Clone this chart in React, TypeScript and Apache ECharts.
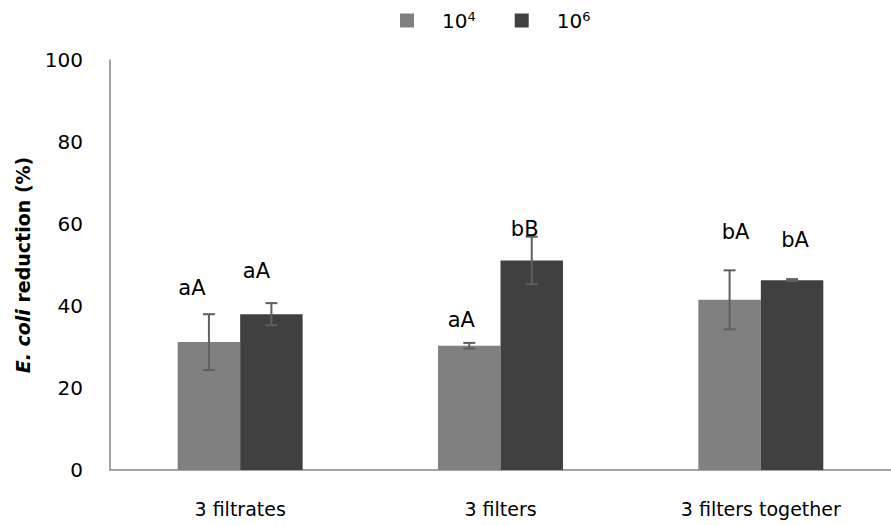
import React, { useEffect, useRef } from "react";
import * as echarts from "echarts";

const categories = ["3 filtrates", "3 filters", "3 filters together"];
const seriesNames = ["10^4", "10^6"];
const values4 = [31.2, 30.3, 41.5];
const errors4 = [6.8, 0.7, 7.2];
const values6 = [38.0, 51.1, 46.3];
const errors6 = [2.7, 5.8, 0.25];
const letters4 = ["aA", "aA", "bA"];
const letters6 = ["aA", "bB", "bA"];
const yTicks = [0, 20, 40, 60, 80, 100];

// label placement tweaks (pixels, relative to top of error bar / bar centre)
const labelDx = [[-17, -8, 6], [-15, -7, 3]];
const labelDy = [[-26, -23, -38], [-32, -8, -39]];

const FONT = "'DejaVu Sans', sans-serif";
const COLORS = ["#808080", "#404040"];

export default function App() {
  const ref = useRef<HTMLDivElement>(null);
  useEffect(() => {
    if (!ref.current) return;
    const chart = echarts.init(ref.current, undefined, { renderer: "svg" });
    const errData: any[] = [];
    [values4, values6].forEach((vals, s) => {
      const errs = s === 0 ? errors4 : errors6;
      const lets = s === 0 ? letters4 : letters6;
      vals.forEach((v, i) => {
        errData.push({ value: [i, v, errs[i], s], letter: lets[i] });
      });
    });
    chart.setOption({
      animation: false,
      color: COLORS,
      legend: {
        data: seriesNames,
        left: 395,
        top: 5,
        itemWidth: 14,
        itemHeight: 14,
        itemGap: 39,
        icon: "rect",
        formatter: (n: string) => {
          const [b, e] = n.split("^");
          return `{base|${b}}{sup|${e}}`;
        },
        textStyle: {
          padding: [0, 0, 0, 23],
          rich: {
            base: { fontFamily: FONT, fontSize: 20, color: "#000" },
            sup: { fontFamily: FONT, fontSize: 13, color: "#000", verticalAlign: "bottom", padding: [0, 0, 8, 0] },
          },
        },
      },
      grid: { left: 110, right: -11, top: 60, bottom: 55, containLabel: false },
      xAxis: {
        type: "category",
        data: categories,
        axisLine: { lineStyle: { color: "#868686", width: 1.5 } },
        axisTick: { show: false },
        axisLabel: { fontFamily: FONT, fontSize: 19, color: "#000", margin: 29 },
      },
      yAxis: {
        type: "value",
        min: yTicks[0],
        max: yTicks[yTicks.length - 1],
        interval: 20,
        name: "{i|E. coli }{b|reduction (%)}",
        nameLocation: "middle",
        nameGap: 78,
        nameRotate: 90,
        nameTextStyle: {
          rich: {
            i: { fontFamily: FONT, fontSize: 19, fontWeight: "bold", fontStyle: "italic", color: "#000" },
            b: { fontFamily: FONT, fontSize: 19, fontWeight: "bold", color: "#000" },
          },
        },
        axisLine: { show: true, lineStyle: { color: "#868686", width: 1.5 } },
        axisTick: { show: false },
        splitLine: { show: false },
        axisLabel: { fontFamily: FONT, fontSize: 20, color: "#000", margin: 27 },
      },
      series: [
        {
          name: seriesNames[0],
          type: "bar",
          data: values4,
          barGap: "0%",
          barCategoryGap: "52%",
          itemStyle: { color: COLORS[0] },
        },
        {
          name: seriesNames[1],
          type: "bar",
          data: values6,
          barGap: "0%",
          barCategoryGap: "52%",
          itemStyle: { color: COLORS[1] },
        },
        {
          type: "custom",
          data: errData,
          z: 10,
          renderItem: (params: any, api: any) => {
            const cat = api.value(0);
            const v = api.value(1);
            const e = api.value(2);
            const s = api.value(3);
            const band = api.size([1, 0])[0];
            const barW = band * 0.24;
            const c = api.coord([cat, v]);
            const x = c[0] + (s === 0 ? -barW / 2 : barW / 2);
            const top = api.coord([cat, v + e])[1];
            const bot = api.coord([cat, v - e])[1];
            const cap = 6;
            const st = { stroke: "#5f5f5f", lineWidth: 2 };
            const item = errData[params.dataIndex];
            const idx = cat;
            return {
              type: "group",
              children: [
                { type: "line", shape: { x1: x, y1: top, x2: x, y2: bot }, style: st },
                { type: "line", shape: { x1: x - cap, y1: top, x2: x + cap, y2: top }, style: st },
                { type: "line", shape: { x1: x - cap, y1: bot, x2: x + cap, y2: bot }, style: st },
                {
                  type: "text",
                  x: x + labelDx[s][idx],
                  y: top + labelDy[s][idx],
                  style: {
                    text: item.letter,
                    fill: "#000",
                    font: `21px ${FONT}`,
                    align: "center",
                    verticalAlign: "middle",
                  },
                },
              ],
            };
          },
        },
      ],
    });
    return () => chart.dispose();
  }, []);
  return (
    <div
      ref={ref}
      style={{ position: "fixed", left: 0, top: 0, width: 891, height: 525, background: "#fff" }}
    />
  );
}
